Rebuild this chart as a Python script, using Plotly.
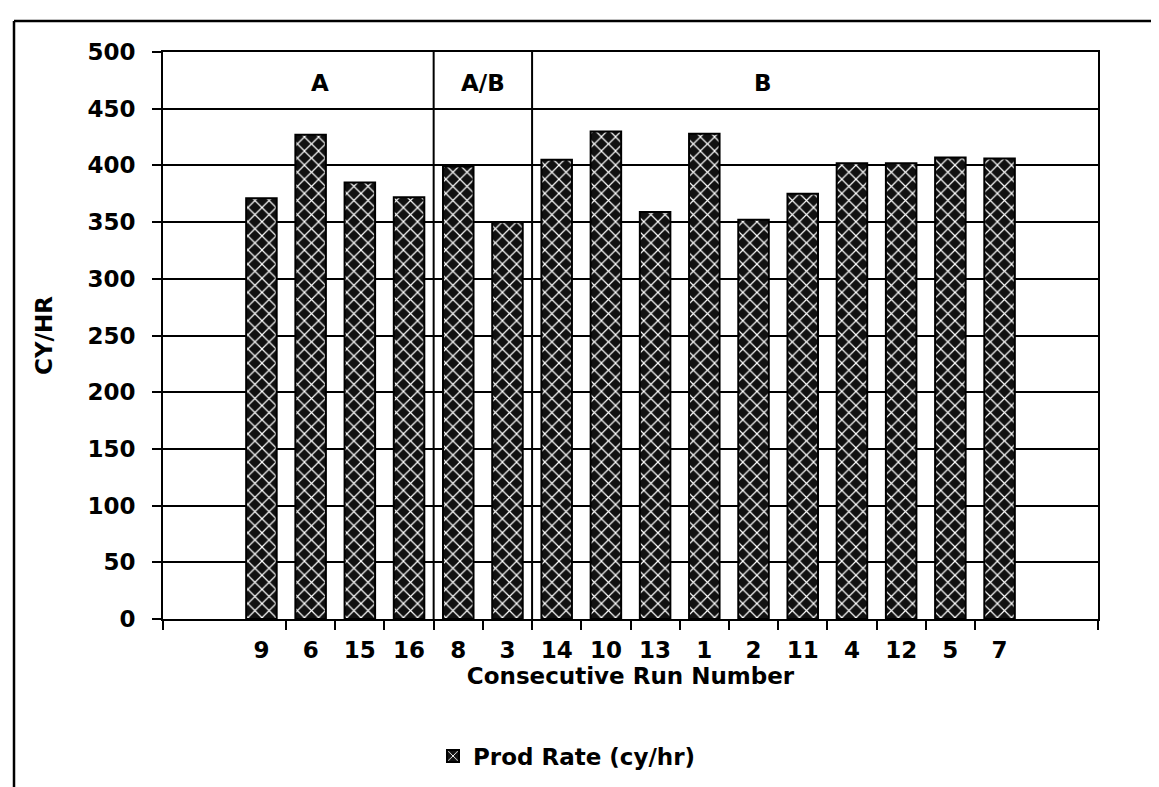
import plotly.graph_objects as go

# ---- data ----
run_labels = ["9", "6", "15", "16", "8", "3", "14", "10", "13", "1", "2", "11", "4", "12", "5", "7"]
prod_rate = [371, 427, 385, 372, 399, 350, 405, 430, 359, 428, 352, 375, 402, 402, 407, 406]
group_names = ["A", "A/B", "B"]
group_sizes = [4, 2, 10]
y_ticks = [0, 50, 100, 150, 200, 250, 300, 350, 400, 450, 500]

series_name = "Prod Rate (cy/hr)"
x_title = "Consecutive Run Number"
y_title = "CY/HR"

# ---- figure geometry ----
W, H = 1159, 787
L, R, T, B = 155, 1090, 44, 611
FONT = "DejaVu Sans"
FS = 23
TXT = dict(family=FONT, size=FS, color="black", weight="bold")

xpos = list(range(len(run_labels)))
xmin, xmax = -2, len(run_labels) + 1

fig = go.Figure()
fig.add_trace(go.Bar(
    x=xpos, y=prod_rate, name=series_name, width=0.62,
    marker=dict(color="black", line=dict(color="black", width=2),
                pattern=dict(shape="x", fgcolor="white", bgcolor="#111111",
                             size=10, solidity=0.22, fillmode="replace")),
    showlegend=True,
))

def px_to_paper_x(px):
    return (px - L) / (R - L)

def px_to_paper_y(py):
    return (B - py) / (B - T)

shapes = []
annotations = []
start = 0
for i, (name, size) in enumerate(zip(group_names, group_sizes)):
    end = start + size
    if i < len(group_names) - 1:
        shapes.append(dict(type="line", xref="x", yref="y", x0=end - 0.5, x1=end - 0.5,
                           y0=0, y1=500, line=dict(color="black", width=2)))
    center = (start + end - 1) / 2
    annotations.append(dict(x=center, y=473, xref="x", yref="y", text=name, showarrow=False,
                            xshift=0 if name == "A/B" else -15, font=TXT))
    start = end

# outer page frame (top and left edges)
shapes.append(dict(type="line", xref="paper", yref="paper",
                   x0=px_to_paper_x(6), x1=px_to_paper_x(1159),
                   y0=px_to_paper_y(13), y1=px_to_paper_y(13),
                   line=dict(color="black", width=2.5)))
shapes.append(dict(type="line", xref="paper", yref="paper",
                   x0=px_to_paper_x(6), x1=px_to_paper_x(6),
                   y0=px_to_paper_y(13), y1=px_to_paper_y(787),
                   line=dict(color="black", width=2.5)))

fig.update_layout(
    width=W, height=H,
    margin=dict(l=L, r=W - R, t=T, b=H - B),
    paper_bgcolor="white", plot_bgcolor="white",
    font=TXT,
    shapes=shapes, annotations=annotations,
    legend=dict(orientation="h", x=px_to_paper_x(425), xanchor="left",
                y=px_to_paper_y(748), yanchor="middle", font=TXT),
    xaxis=dict(
        range=[xmin, xmax], tickmode="array", tickvals=xpos, ticktext=run_labels,
        ticks="", showgrid=False, zeroline=False,
        showline=True, linecolor="black", linewidth=2, mirror=True,
        tickfont=TXT, ticklabelstandoff=9,
        minor=dict(tickmode="array",
                   tickvals=[xmin] + [i + 0.5 for i in xpos[:-1]] + [xmax],
                   ticks="outside", ticklen=9, tickwidth=2, tickcolor="black", showgrid=False),
        title=dict(text=x_title, font=TXT, standoff=6),
    ),
    yaxis=dict(
        range=[0, 500], tickmode="array", tickvals=y_ticks,
        ticks="outside", ticklen=9, tickwidth=2, tickcolor="black",
        showgrid=True, gridcolor="black", gridwidth=2, zeroline=False,
        showline=True, linecolor="black", linewidth=2, mirror=True,
        tickfont=TXT, ticklabelstandoff=12,
        title=dict(text=y_title, font=TXT, standoff=28),
    ),
)

fig.write_html("out.html")
